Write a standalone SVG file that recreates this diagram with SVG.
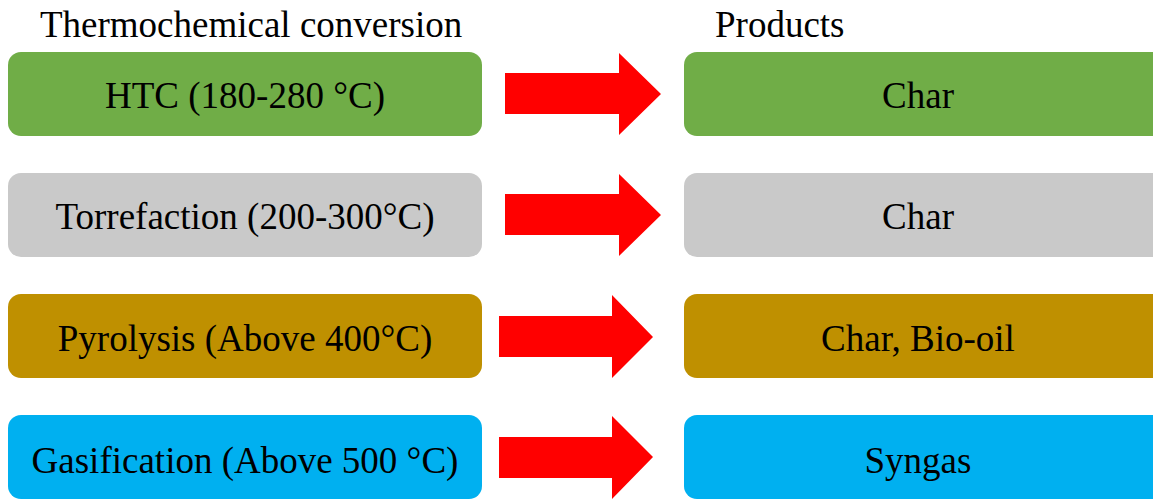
<svg xmlns="http://www.w3.org/2000/svg" width="1153" height="499" viewBox="0 0 1153 499">
<style>
text{font-family:"Liberation Serif","Times New Roman",serif;font-size:37px;fill:#000}
.c{text-anchor:middle}
.arrow{fill:#FF0000}
.g{fill:#70AD47}.s{fill:#C9C9C9}.o{fill:#BF9000}.b{fill:#00B0F0}
</style>
<rect width="1153" height="499" fill="#fff"/>
<g id="titles">
<text x="40" y="37">Thermochemical conversion</text>
<text x="715" y="37">Products</text>
</g>
<g id="htc"><rect class="g" x="8" y="52" width="474" height="84" rx="13"/><text class="c" x="245" y="108">HTC (180-280 °C)</text></g>
<g id="torrefaction"><rect class="s" x="8" y="173" width="474" height="84" rx="13"/><text class="c" x="245" y="229">Torrefaction (200-300°C)</text></g>
<g id="pyrolysis"><rect class="o" x="8" y="294" width="474" height="84" rx="13"/><text class="c" x="245" y="351">Pyrolysis (Above 400°C)</text></g>
<g id="gasification"><rect class="b" x="8" y="415" width="474" height="84" rx="13"/><text class="c" x="245" y="473">Gasification (Above 500 °C)</text></g>
<g id="char1"><rect class="g" x="684" y="52" width="482" height="84" rx="13"/><text class="c" x="918" y="108">Char</text></g>
<g id="char2"><rect class="s" x="684" y="173" width="482" height="84" rx="13"/><text class="c" x="918" y="229">Char</text></g>
<g id="char-biooil"><rect class="o" x="684" y="294" width="482" height="84" rx="13"/><text class="c" x="918" y="351">Char, Bio-oil</text></g>
<g id="syngas"><rect class="b" x="684" y="415" width="482" height="84" rx="13"/><text class="c" x="918" y="473">Syngas</text></g>
<g id="connectors">
<polygon class="arrow" points="505,73 619,73 619,53 661,94 619,135 619,114 505,114"/>
<polygon class="arrow" points="505,194 619,194 619,174 661,215 619,256 619,235 505,235"/>
<polygon class="arrow" points="499,316 612,316 612,295 653,337 612,378 612,357 499,357"/>
<polygon class="arrow" points="499,437 612,437 612,416 653,457 612,499 612,478 499,478"/>
</g>
</svg>
